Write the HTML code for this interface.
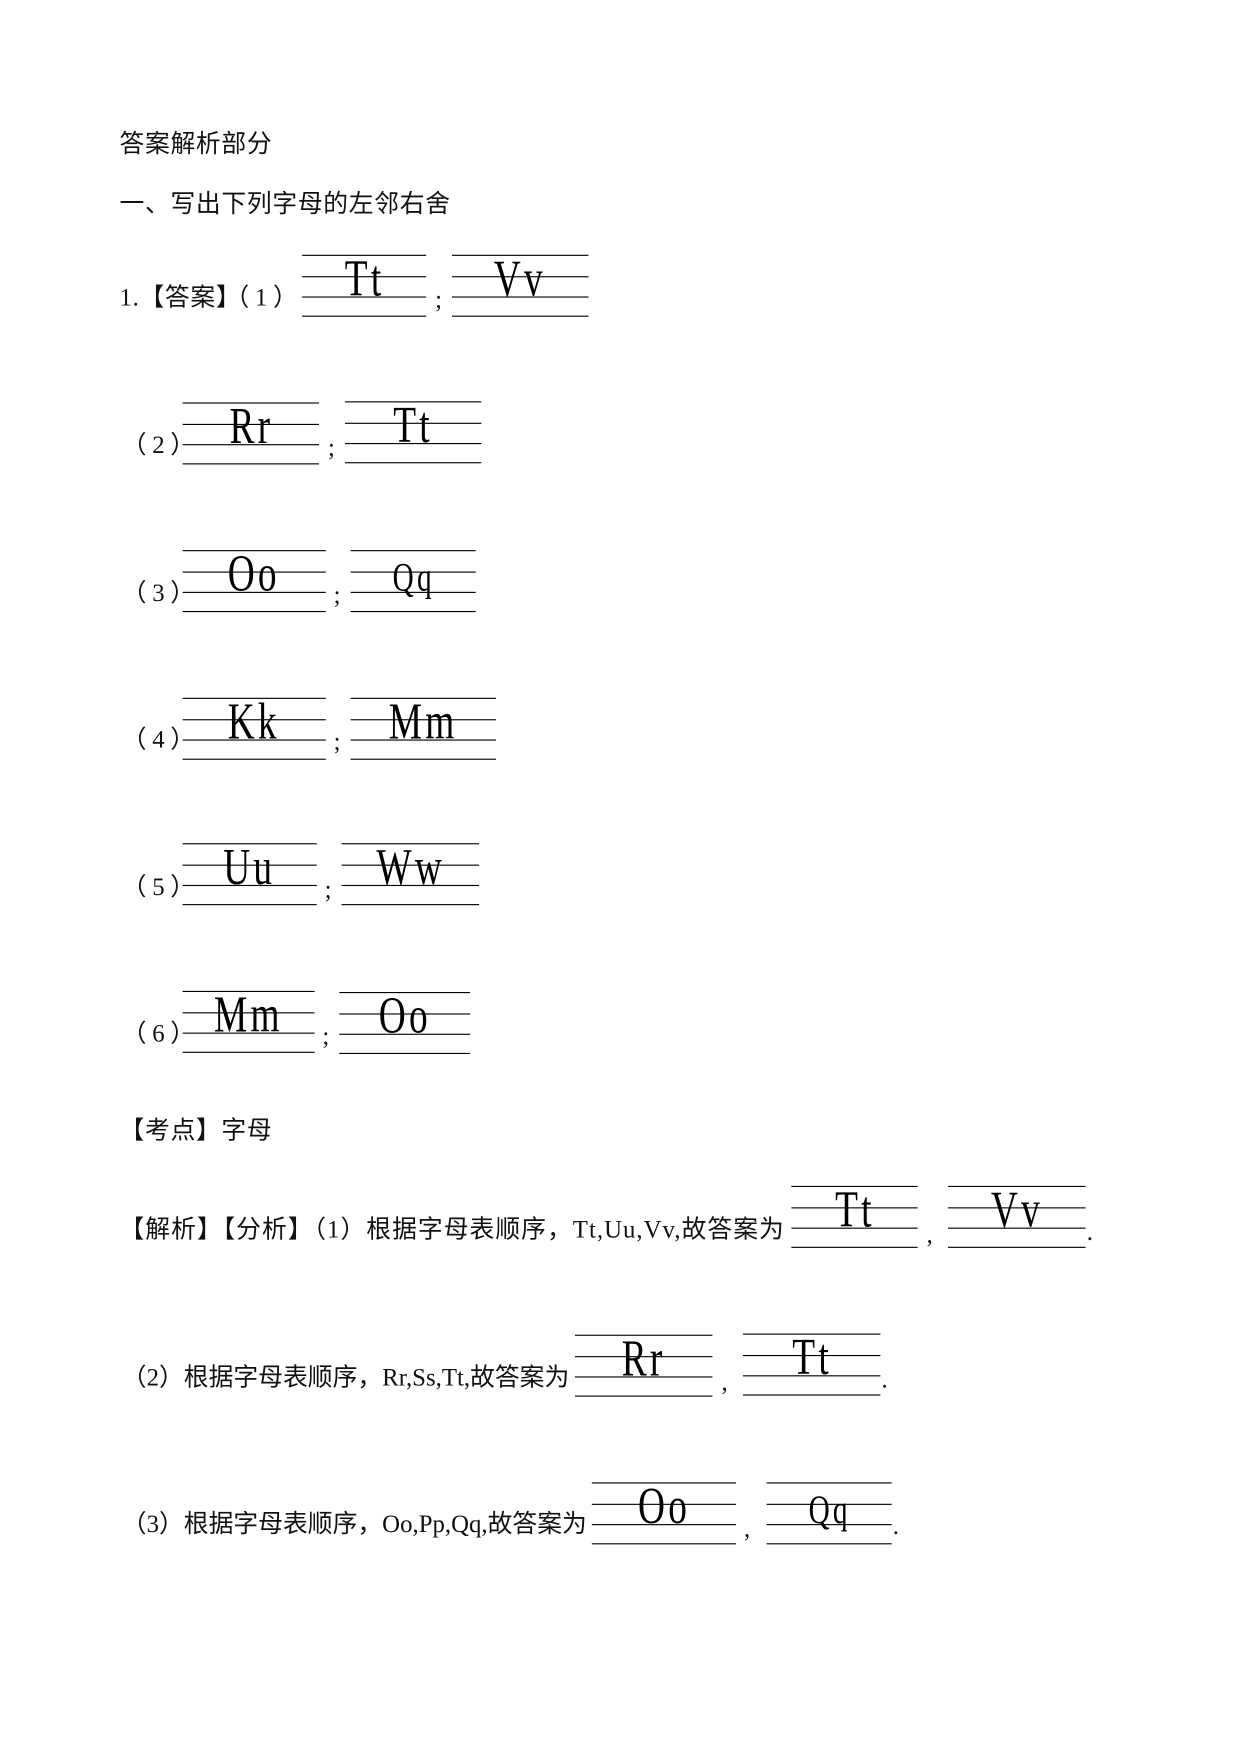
<!DOCTYPE html>
<html><head><meta charset="utf-8"><style>
html,body{margin:0;padding:0;background:#fff;}
#root{position:relative;width:1100px;height:1556px;transform:scale(1.12727);transform-origin:0 0;}
.t{position:absolute;font-family:"Liberation Sans","Noto Sans CJK SC",sans-serif;font-size:22px;line-height:24px;color:#111;white-space:nowrap;transform:translateY(-14px);letter-spacing:0.6px;}
.s{font-family:"Liberation Serif",serif;}
.p{letter-spacing:5px;margin-left:-4px;}
.b{position:absolute;height:56px;}
.b i{position:absolute;left:0;right:0;height:1.3px;background:#000;}
.b .l{position:absolute;left:0;right:0;text-align:center;top:-2px;font-family:"Liberation Serif",serif;font-size:46px;line-height:45px;}
.b .l span{display:inline-block;transform:scaleX(0.72);letter-spacing:4px;}
</style></head><body><div id="root">
<div class="t" style="left:106px;top:130px">答案解析部分</div>
<div class="t" style="left:106px;top:183px">一、写出下列字母的左邻右舍</div>

<div class="t" style="left:106px;top:266px"><span class="s">1.</span>【答案】<span class="p">（<span class="s">1</span>）</span></div>
<div class="b" style="left:268px;width:110px;top:226px"><i style="top:0"></i><i style="top:19px"></i><i style="top:37px"></i><i style="top:54px"></i><div class="l"><span>Tt</span></div></div>
<div class="t s" style="left:386px;top:268px">;</div>
<div class="b" style="left:401px;width:121px;top:226px"><i style="top:0"></i><i style="top:19px"></i><i style="top:37px"></i><i style="top:54px"></i><div class="l"><span>Vv</span></div></div>

<div class="t" style="left:112px;top:397px"><span class="p">（<span class="s">2</span>）</span></div>
<div class="b" style="left:162px;width:121px;top:357px"><i style="top:0"></i><i style="top:19px"></i><i style="top:37px"></i><i style="top:54px"></i><div class="l"><span>Rr</span></div></div>
<div class="t s" style="left:291px;top:399px">;</div>
<div class="b" style="left:306px;width:121px;top:356px"><i style="top:0"></i><i style="top:19px"></i><i style="top:37px"></i><i style="top:54px"></i><div class="l"><span>Tt</span></div></div>

<div class="t" style="left:112px;top:528px"><span class="p">（<span class="s">3</span>）</span></div>
<div class="b" style="left:162px;width:127px;top:488px"><i style="top:0"></i><i style="top:19px"></i><i style="top:37px"></i><i style="top:54px"></i><div class="l"><span>Oo</span></div></div>
<div class="t s" style="left:296px;top:530px">;</div>
<div class="b" style="left:311px;width:111px;top:488px"><i style="top:0"></i><i style="top:19px"></i><i style="top:37px"></i><i style="top:54px"></i><div class="l"><span style="font-size:36px">Qq</span></div></div>

<div class="t" style="left:112px;top:658px"><span class="p">（<span class="s">4</span>）</span></div>
<div class="b" style="left:162px;width:127px;top:619px"><i style="top:0"></i><i style="top:19px"></i><i style="top:37px"></i><i style="top:54px"></i><div class="l"><span>Kk</span></div></div>
<div class="t s" style="left:296px;top:660px">;</div>
<div class="b" style="left:311px;width:129px;top:619px"><i style="top:0"></i><i style="top:19px"></i><i style="top:37px"></i><i style="top:54px"></i><div class="l"><span>Mm</span></div></div>

<div class="t" style="left:112px;top:789px"><span class="p">（<span class="s">5</span>）</span></div>
<div class="b" style="left:162px;width:119px;top:748px"><i style="top:0"></i><i style="top:19px"></i><i style="top:37px"></i><i style="top:54px"></i><div class="l"><span>Uu</span></div></div>
<div class="t s" style="left:288px;top:791px">;</div>
<div class="b" style="left:303px;width:122px;top:748px"><i style="top:0"></i><i style="top:19px"></i><i style="top:37px"></i><i style="top:54px"></i><div class="l"><span>Ww</span></div></div>

<div class="t" style="left:112px;top:919px"><span class="p">（<span class="s">6</span>）</span></div>
<div class="b" style="left:162px;width:117px;top:879px"><i style="top:0"></i><i style="top:19px"></i><i style="top:37px"></i><i style="top:54px"></i><div class="l"><span>Mm</span></div></div>
<div class="t s" style="left:286px;top:921px">;</div>
<div class="b" style="left:301px;width:116px;top:880px"><i style="top:0"></i><i style="top:19px"></i><i style="top:37px"></i><i style="top:54px"></i><div class="l"><span>Oo</span></div></div>

<div class="t" style="left:106px;top:1005px">【考点】字母</div>

<div class="t" style="left:106px;top:1093px;letter-spacing:0.9px">【解析】【分析】（<span class="s">1</span>）根据字母表顺序，<span class="s">Tt,Uu,Vv,</span>故答案为</div>
<div class="b" style="left:702px;width:112px;top:1052px"><i style="top:0"></i><i style="top:19px"></i><i style="top:37px"></i><i style="top:54px"></i><div class="l"><span>Tt</span></div></div>
<div class="t s" style="left:822px;top:1097px">,</div>
<div class="b" style="left:841px;width:122px;top:1052px"><i style="top:0"></i><i style="top:19px"></i><i style="top:37px"></i><i style="top:54px"></i><div class="l"><span>Vv</span></div></div>
<div class="t s" style="left:964px;top:1095px">.</div>

<div class="t" style="left:108px;top:1224px;letter-spacing:0px">（<span class="s">2</span>）根据字母表顺序，<span class="s">Rr,Ss,Tt,</span>故答案为</div>
<div class="b" style="left:510px;width:122px;top:1184px"><i style="top:0"></i><i style="top:19px"></i><i style="top:37px"></i><i style="top:54px"></i><div class="l"><span>Rr</span></div></div>
<div class="t s" style="left:640px;top:1228px">,</div>
<div class="b" style="left:659px;width:122px;top:1183px"><i style="top:0"></i><i style="top:19px"></i><i style="top:37px"></i><i style="top:54px"></i><div class="l"><span>Tt</span></div></div>
<div class="t s" style="left:782px;top:1226px">.</div>

<div class="t" style="left:108px;top:1354px;letter-spacing:0px">（<span class="s">3</span>）根据字母表顺序，<span class="s">Oo,Pp,Qq,</span>故答案为</div>
<div class="b" style="left:525px;width:128px;top:1315px"><i style="top:0"></i><i style="top:19px"></i><i style="top:37px"></i><i style="top:54px"></i><div class="l"><span>Oo</span></div></div>
<div class="t s" style="left:660px;top:1358px">,</div>
<div class="b" style="left:680px;width:111px;top:1315px"><i style="top:0"></i><i style="top:19px"></i><i style="top:37px"></i><i style="top:54px"></i><div class="l"><span style="font-size:36px">Qq</span></div></div>
<div class="t s" style="left:792px;top:1356px">.</div>
</div></body></html>
